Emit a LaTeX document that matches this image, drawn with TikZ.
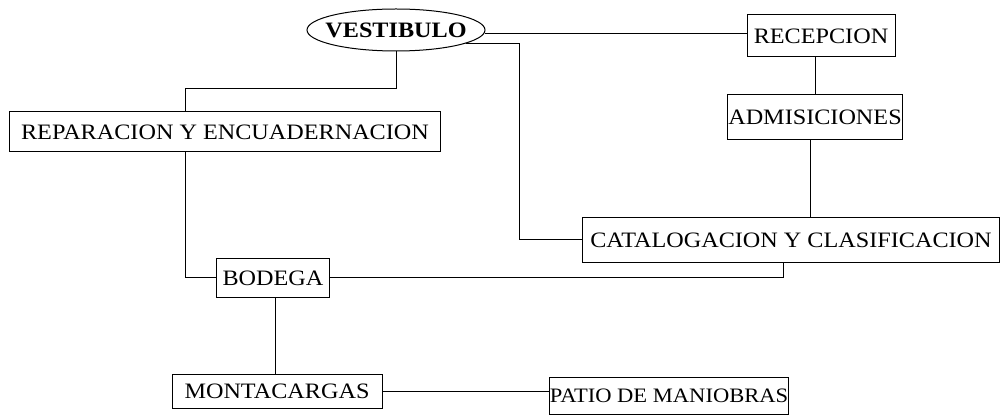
\documentclass[tikz,border=0pt]{standalone}
\usepackage{fontspec}
\setmainfont{Liberation Serif}[FakeStretch=1.1]
\usetikzlibrary{shapes.geometric}
\begin{document}
\begin{tikzpicture}[x=1pt,y=-1pt,
  box/.style={draw,line width=1pt,inner sep=0pt,font=\fontsize{22}{26}\selectfont},
  link/.style={line width=1pt}]
\useasboundingbox (0,0) rectangle (1008,419);
\node[ellipse,draw,line width=1pt,minimum width=178pt,minimum height=42pt,inner xsep=-8pt,inner ysep=3pt,font=\bfseries\fontsize{22}{26}\selectfont] (vest) at (396,30) {VESTIBULO};
\node[box,minimum width=148pt,minimum height=42pt] (recep) at (821,36) {RECEPCION};
\node[box,minimum width=175pt,minimum height=45pt] (adm) at (815,117) {ADMISICIONES};
\node[box,minimum width=431pt,minimum height=40pt] (rep) at (225,132) {REPARACION Y ENCUADERNACION};
\node[box,minimum width=417pt,minimum height=45pt] (cat) at (791,240) {CATALOGACION Y CLASIFICACION};
\node[box,minimum width=113pt,minimum height=39pt] (bod) at (273,278) {BODEGA};
\node[box,minimum width=210pt,minimum height=34pt] (mont) at (277,391) {MONTACARGAS};
\node[box,minimum width=238pt,minimum height=37pt,font=\fontsize{20.5}{24}\selectfont] (patio) at (669,396) {PATIO DE MANIOBRAS};
\coordinate (v1) at (519,0);
\coordinate (v2) at (0,89);
\coordinate (r1) at (185,0);
\draw[link] (vest.-2) -- (vest.-2 -| recep.west);
\draw[link] (vest.-11) -| (v1 |- cat.west) -- (cat.west);
\draw[link] (vest.south) |- (r1 |- v2) -- (r1 |- rep.north);
\draw[link] (r1 |- rep.south) |- (bod.west);
\draw[link] (recep.south -| 815,0) -- (adm.north -| 815,0);
\draw[link] (adm.south -| 810,0) -- (cat.north -| 810,0);
\draw[link] (bod.east) -| (783,0 |- cat.south);
\draw[link] (bod.south -| 275,0) -- (mont.north -| 275,0);
\draw[link] (mont.east) -- (mont.east -| patio.west);
\end{tikzpicture}
\end{document}
